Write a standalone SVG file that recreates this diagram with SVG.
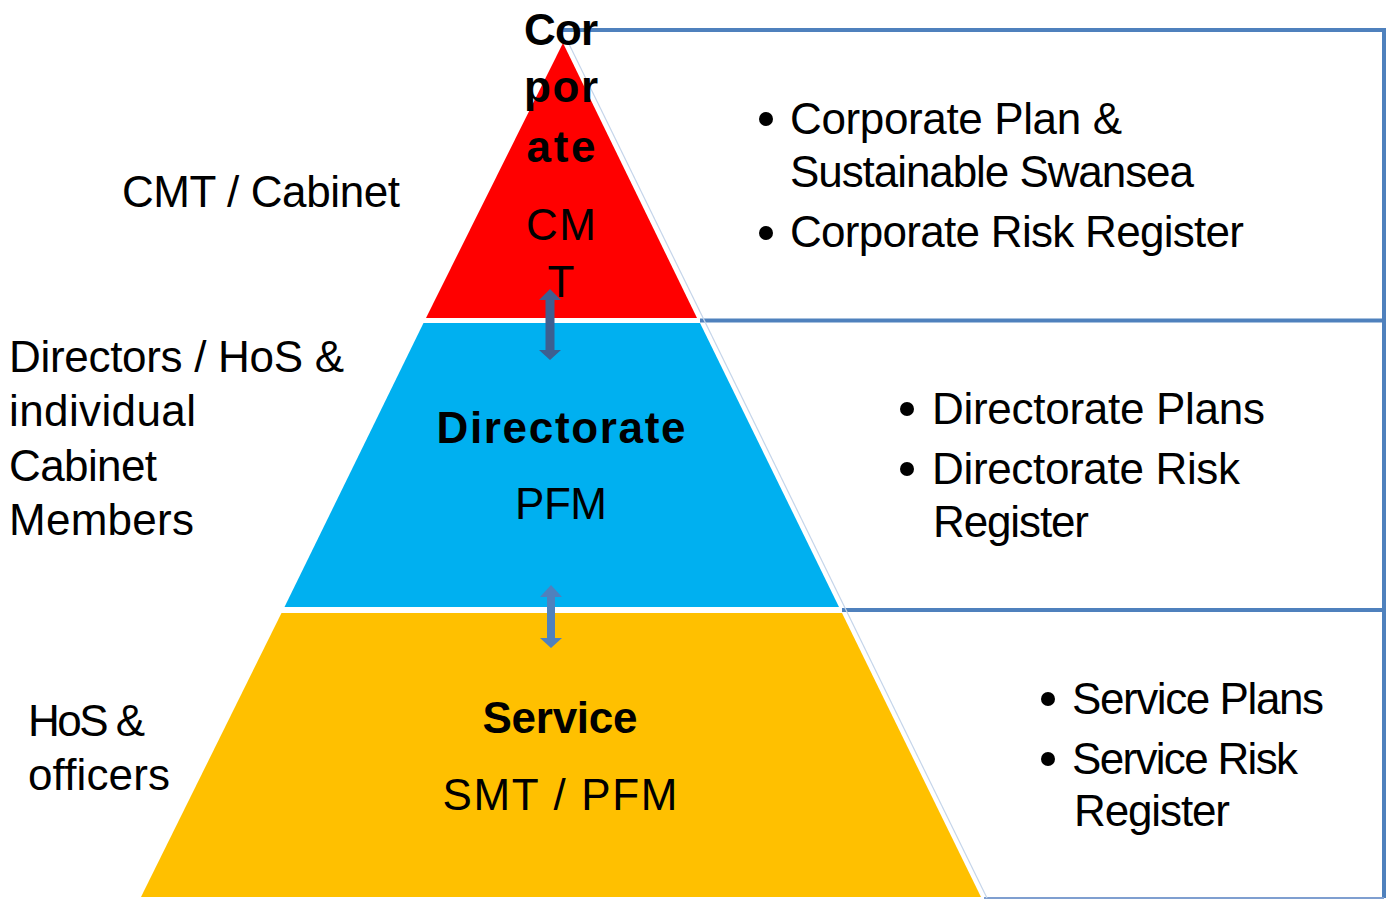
<svg xmlns="http://www.w3.org/2000/svg" width="1388" height="900" viewBox="0 0 1388 900">
<style>
text{font-family:"Liberation Sans",Arial,sans-serif;font-size:44px;fill:#000}
.b{font-weight:bold}
.c{text-anchor:middle}
.box{stroke:#4f81bd;stroke-width:4;fill:none}
</style>
<defs>
<marker id="m" markerWidth="1" markerHeight="1"/>
</defs>
<rect width="1388" height="900" fill="#fff"/>
<g id="frame">
<line class="box" x1="563" y1="30" x2="1386" y2="30"/>
<line class="box" x1="1384" y1="28" x2="1384" y2="898"/>
<line class="box" x1="700" y1="320.5" x2="1384" y2="320.5"/>
<line class="box" x1="842" y1="610" x2="1384" y2="610"/>
<line x1="984" y1="898" x2="1384" y2="898" stroke="#7f9fd0" stroke-width="2"/>
<line x1="567" y1="40" x2="987" y2="898" stroke="#c5d5ea" stroke-width="1.2"/>
</g>
<g id="tier-corporate">
<polygon points="563,43 426,318 697,318" fill="#ff0000"/>
<text class="b c" x="561" y="45" textLength="74">Cor</text>
<text class="b c" x="561" y="102" textLength="74">por</text>
<text class="b c" x="561" y="162" textLength="69">ate</text>
<text class="c" x="561" y="240" textLength="70">CM</text>
<text class="c" x="561" y="297">T</text>
</g>
<g id="tier-directorate">
<polygon points="423.5,323 700,323 839,607 284.5,607" fill="#00b0f0"/>
<text class="b c" x="561" y="443" textLength="249">Directorate</text>
<text class="c" x="561" y="519" textLength="92">PFM</text>
</g>
<g id="tier-service">
<polygon points="281.5,613 842,613 981,897 141,897" fill="#ffc000"/>
<text class="b c" x="560" y="733" textLength="155">Service</text>
<text class="c" x="560" y="810" textLength="235">SMT / PFM</text>
</g>
<g id="label-cmt">
<text x="122" y="207" textLength="278">CMT / Cabinet</text>
</g>
<g id="label-directors">
<text x="9" y="372" textLength="335">Directors / HoS &amp;</text>
<text x="9" y="426" textLength="187">individual</text>
<text x="9" y="481" textLength="148">Cabinet</text>
<text x="9" y="535" textLength="185">Members</text>
</g>
<g id="label-hos">
<text x="28" y="736" textLength="117">HoS &amp;</text>
<text x="28" y="790" textLength="142">officers</text>
</g>
<g id="list-corporate">
<circle cx="766" cy="119" r="7"/>
<text x="790" y="134" textLength="332">Corporate Plan &amp;</text>
<text x="790" y="187" textLength="404">Sustainable Swansea</text>
<circle cx="766" cy="233" r="7"/>
<text x="790" y="247" textLength="454">Corporate Risk Register</text>
</g>
<g id="list-directorate">
<circle cx="907" cy="409" r="7"/>
<text x="932" y="424" textLength="333">Directorate Plans</text>
<circle cx="907" cy="469" r="7"/>
<text x="932" y="484" textLength="308">Directorate Risk</text>
<text x="933" y="537" textLength="156">Register</text>
</g>
<g id="list-service">
<circle cx="1048" cy="699" r="7"/>
<text x="1072" y="714" textLength="252">Service Plans</text>
<circle cx="1048" cy="759" r="7"/>
<text x="1072" y="774" textLength="226">Service Risk</text>
<text x="1074" y="826" textLength="156">Register</text>
</g>
<g id="connectors">
<polygon points="550,289 561,300 554.5,300 554.5,350 561,350 550,360 539,350 545.5,350 545.5,300 539,300" fill="#3d5f91"/>
<polygon points="551,585 562,597 555,597 555,638 562,638 551,648 540,638 547,638 547,597 540,597" fill="#4f81bd"/>
</g>
</svg>
